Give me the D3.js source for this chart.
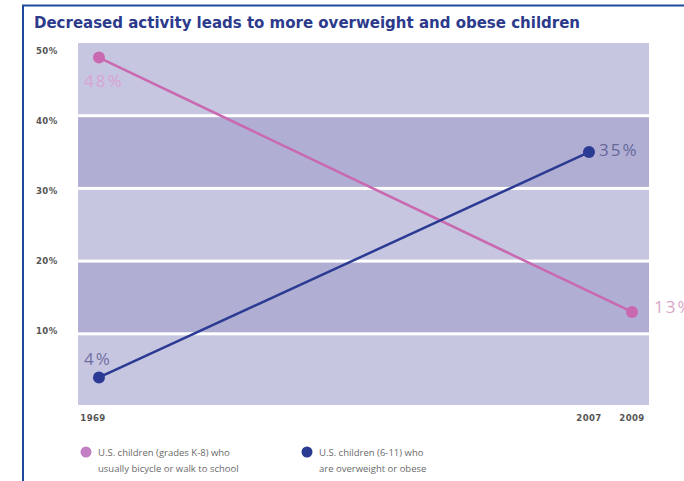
<!DOCTYPE html>
<html>
<head>
    <meta charset="UTF-8">
    <title>Decreased activity leads to more overweight and obese children</title>
    <style>
        body { margin: 0; background: #fff; }
        .title { font: bold 16px "DejaVu Sans Condensed", "DejaVu Sans", sans-serif; fill: #2c3a8c; }
        .tick-label { font: bold 9.5px "DejaVu Sans Condensed", "DejaVu Sans", sans-serif; fill: #555; letter-spacing: 0.4px; }
        .value-label { font: 17px "Open Sans", sans-serif; letter-spacing: 2px; }
        .legend-text { font: 9.5px "Open Sans", sans-serif; fill: #6a6a6a; }
    </style>
    <script src="https://d3js.org/d3.v7.min.js"></script>
</head>
<body>
<div id="chart"></div>
<script>
    // data
    const years = [1969, 2007, 2009];
    const yTicks = [10, 20, 30, 40, 50];
    const bikeYears = [1969, 2009];
    const bikeValues = [48, 13];
    const obeseYears = [1969, 2007];
    const obeseValues = [4, 35];
    const legendLabels = [
        ["U.S. children (grades K-8) who", "usually bicycle or walk to school"],
        ["U.S. children (6-11) who", "are overweight or obese"]
    ];
    const titleText = "Decreased activity leads to more overweight and obese children";

    const W = 684, H = 481;
    const plot = {left: 78, right: 649, top: 43, bottom: 405};
    const pink = "#c96ab1", navy = "#2b3a92";

    const svg = d3.select("#chart")
        .append("svg")
            .attr("width", W)
            .attr("height", H);

    // frame
    svg.append("path")
        .attr("d", `M23,${H} L23,5.5 L${W},5.5`)
        .attr("fill", "none")
        .attr("stroke", "#1f4a9c")
        .attr("stroke-width", 2);

    svg.append("text")
        .attr("class", "title")
        .attr("x", 34)
        .attr("y", 28)
        .attr("textLength", 546)
        .attr("lengthAdjust", "spacingAndGlyphs")
        .text(titleText);

    // scales
    const y = d3.scaleLinear()
        .domain([0, 50])
        .range([406.5, plot.top]);

    // the printed tick labels are spaced a little tighter than the bands
    const yLabel = d3.scaleLinear()
        .domain([10, 50])
        .range([330, 50]);

    // uneven year spacing, like the original
    const x = d3.scaleLinear()
        .domain(years)
        .range([99, 589, 632]);

    // bands
    const bandEdges = [0].concat(yTicks);
    const bands = d3.pairs(bandEdges);
    svg.append("g")
        .selectAll("rect")
        .data(bands)
        .join("rect")
            .attr("x", plot.left)
            .attr("width", plot.right - plot.left)
            .attr("y", d => y(d[1]) + (d[1] === 50 ? 0 : 1.5))
            .attr("height", d => Math.min(y(d[0]), plot.bottom) - y(d[1]) - (d[1] === 50 ? 1.5 : 3) + (d[0] === 0 ? 1.5 : 0))
            .attr("fill", (d, i) => i % 2 === 0 ? "#c7c6e1" : "#b0afd3");

    // y tick labels
    svg.append("g")
        .selectAll("text")
        .data(yTicks)
        .join("text")
            .attr("class", "tick-label")
            .attr("x", 36)
            .attr("y", d => yLabel(d) + 3.5)
            .text(d => d + "%");

    // x tick labels
    svg.append("g")
        .selectAll("text")
        .data(years)
        .join("text")
            .attr("class", "tick-label")
            .attr("text-anchor", "middle")
            .attr("x", (d, i) => x(d) - (i === 0 ? 6 : 0))
            .attr("y", 421)
            .text(d => d);

    const line = d3.line()
        .x(d => x(d[0]))
        .y(d => y(d[1]));

    function drawSeries(xs, vs, color) {
        const pts = d3.zip(xs, vs);
        svg.append("path")
            .datum(pts)
            .attr("fill", "none")
            .attr("stroke", color)
            .attr("stroke-width", 2.5)
            .attr("d", line);
        svg.append("g")
            .selectAll("circle")
            .data(pts)
            .join("circle")
                .attr("cx", d => x(d[0]))
                .attr("cy", d => y(d[1]))
                .attr("r", 6)
                .attr("fill", color);
    }

    drawSeries(bikeYears, bikeValues, pink);
    drawSeries(obeseYears, obeseValues, navy);

    // value labels
    svg.append("text").attr("class", "value-label")
        .attr("x", x(bikeYears[0]) - 15).attr("y", y(bikeValues[0]) + 29)
        .attr("fill", "#d9a3d2")
        .text(bikeValues[0] + "%");
    svg.append("text").attr("class", "value-label")
        .attr("x", x(bikeYears[1]) + 22).attr("y", y(bikeValues[1]) + 1)
        .attr("fill", "#d7a6c9")
        .text(bikeValues[1] + "%");
    svg.append("text").attr("class", "value-label")
        .attr("x", x(obeseYears[0]) - 15).attr("y", y(obeseValues[0]) - 12)
        .attr("fill", "#6f6fa3")
        .text(obeseValues[0] + "%");
    svg.append("text").attr("class", "value-label")
        .attr("x", x(obeseYears[1]) + 10).attr("y", y(obeseValues[1]) + 4)
        .attr("fill", "#67679b")
        .text(obeseValues[1] + "%");

    // legend
    const legend = svg.append("g")
        .selectAll("g")
        .data(legendLabels)
        .join("g")
            .attr("transform", (d, i) => `translate(${i === 0 ? 86 : 307},452)`);
    legend.append("circle")
        .attr("r", 5.5)
        .attr("fill", (d, i) => i === 0 ? "#c27fc4" : navy);
    legend.append("text")
        .attr("class", "legend-text")
        .attr("x", 12)
        .attr("y", 4)
        .selectAll("tspan")
        .data(d => d)
        .join("tspan")
            .attr("x", 12)
            .attr("dy", (d, i) => i === 0 ? 0 : 16)
            .text(d => d);
</script>
</body>
</html>
